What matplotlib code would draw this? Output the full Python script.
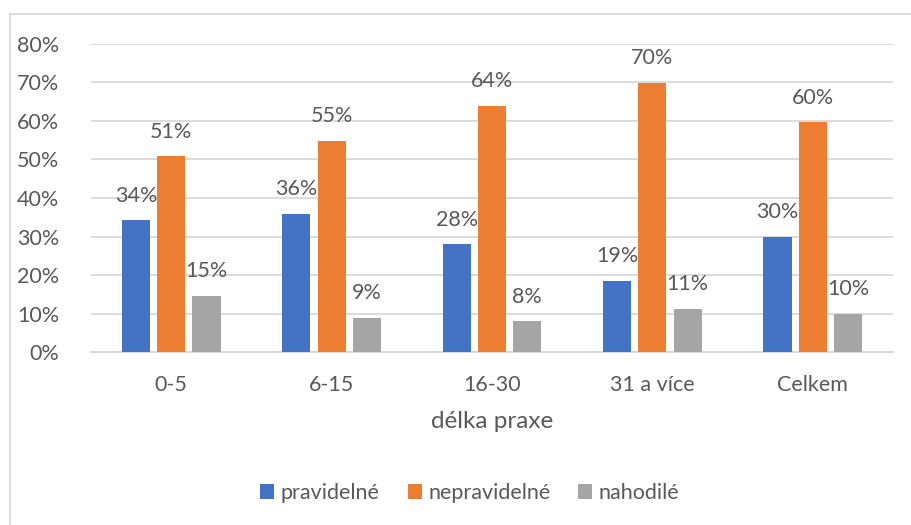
import matplotlib
matplotlib.use("Agg")
import matplotlib.pyplot as plt
from matplotlib.patches import Patch
from matplotlib.lines import Line2D
from matplotlib.ticker import PercentFormatter
import numpy as np

plt.rcParams['font.family'] = ['Lato', 'DejaVu Sans']

categories = ["0-5", "6-15", "16-30", "31 a více", "Celkem"]
series_names = ["pravidelné", "nepravidelné", "nahodilé"]
pravidelne = [34.2, 35.9, 28.0, 18.6, 30.0]
nepravidelne = [50.8, 54.9, 63.8, 69.9, 59.6]
nahodile = [14.6, 8.9, 8.0, 11.2, 10.0]
label_texts = [
    ["34%", "36%", "28%", "19%", "30%"],
    ["51%", "55%", "64%", "70%", "60%"],
    ["15%", "9%", "8%", "11%", "10%"],
]
yticks = [0, 10, 20, 30, 40, 50, 60, 70, 80]
x_title = "délka praxe"

colors = ["#4472C4", "#ED7D31", "#A5A5A5"]
text_color = "#595959"
grid_color = "#D9D9D9"
fs = 15.5

W, H = 912, 525
fig = plt.figure(figsize=(W / 100, H / 100), dpi=100)
ax = fig.add_axes([91 / W, 1 - 352.3 / H, (893 - 91) / W, (352.3 - 43.7) / H])

x = np.arange(len(categories))
offsets = [-0.22, 0.0, 0.22]
bw = 0.175
all_series = [pravidelne, nepravidelne, nahodile]
for s, (vals, off, col) in enumerate(zip(all_series, offsets, colors)):
    bars = ax.bar(x + off, vals, width=bw, color=col, zorder=3, label=series_names[s])
    for b, v, t in zip(bars, vals, label_texts[s]):
        ax.annotate(t, (b.get_x() + b.get_width() / 2, v), xytext=(0, 13.5),
                    textcoords="offset points", ha="center", va="baseline",
                    fontsize=fs, color=text_color, zorder=4)

ax.set_xlim(-0.5, len(categories) - 0.5)
ax.set_ylim(0, 80)
ax.set_yticks(yticks)
ax.yaxis.set_major_formatter(PercentFormatter(decimals=0))
ax.set_xticks(x)
ax.set_xticklabels(categories)
ax.grid(axis="y", color=grid_color, linewidth=1.3, zorder=0)
for sp in ["top", "right", "left"]:
    ax.spines[sp].set_visible(False)
ax.spines["bottom"].set_color(grid_color)
ax.spines["bottom"].set_linewidth(1.3)
ax.tick_params(axis="both", length=0, labelsize=fs, labelcolor=text_color)
ax.tick_params(axis="y", pad=23)
ax.tick_params(axis="x", pad=16)
ax.set_xlabel(x_title, fontsize=17.5, color=text_color, labelpad=12)

# chart border (top and left)
fig.add_artist(Line2D([10 / W, 10 / W], [0, 1 - 14 / H], transform=fig.transFigure,
                      color=grid_color, linewidth=1.3))
fig.add_artist(Line2D([10 / W, 1], [1 - 14 / H, 1 - 14 / H], transform=fig.transFigure,
                      color=grid_color, linewidth=1.3))

handles = [Patch(facecolor=c, edgecolor="none") for c in colors]
fig.legend(handles, series_names, loc="center", bbox_to_anchor=(470 / W, 1 - 493 / H),
           ncol=3, frameon=False, fontsize=fs, labelcolor=text_color,
           handlelength=0.65, handleheight=0.65, handletextpad=0.3, columnspacing=1.3)

fig.savefig("out.png", dpi=100)
